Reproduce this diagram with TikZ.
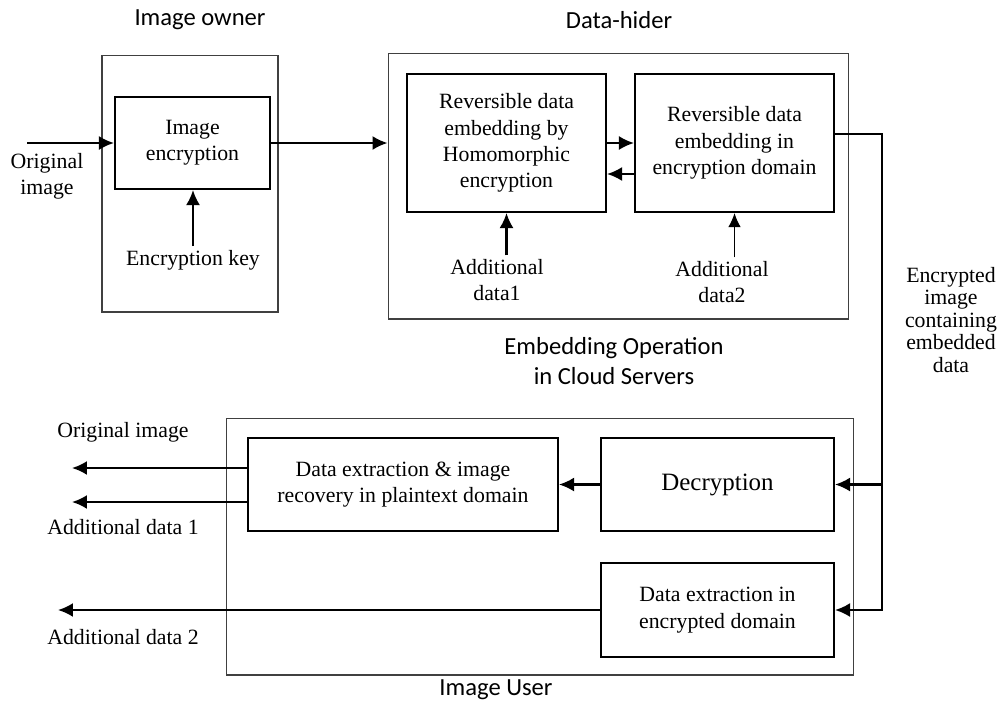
\documentclass[tikz,border=0pt]{standalone}
\usepackage{fontspec}
\setmainfont{Liberation Serif}
\newfontfamily\headfont{Carlito}
\usetikzlibrary{shapes,arrows.meta,positioning}

\begin{document}
\begin{tikzpicture}[x=0.02cm, y=-0.02cm, auto,
    block/.style={rectangle, draw, line width=1.2pt, align=center, inner sep=2pt, font=\fontsize{12.4}{15}\selectfont},
    group/.style={rectangle, draw=black!75, line width=0.6pt},
    txt/.style={align=center, inner sep=2pt, font=\fontsize{12.4}{15}\selectfont},
    head/.style={align=center, inner sep=0pt, font=\headfont\fontsize{14}{17}\selectfont},
    flow/.style={draw, -{Latex[length=3mm,width=2.8mm]}, line width=1.2pt},
    thinflow/.style={draw, -{Latex[length=2.8mm,width=2.5mm]}, line width=0.7pt}]
\useasboundingbox (0,0) rectangle (1000,707);

% image owner
			\node [group, minimum width=3.52cm, minimum height=5.14cm] (owner) at (190,183.5) {};
			\node [block, minimum width=3.1cm, minimum height=1.84cm] (encrypt) at (192.5,143) {Image\\encryption};
			\node [txt] (key) at (193,260) {Encryption key};
			\node [txt] (orig) at (47,176) {Original\\image};
			\coordinate (src) at (27,143);
			\node [head] (ownerhead) at (200,20) {Image owner};
			\path [flow] (src) -- (encrypt.west);
			\path [flow] (key.north) -- (key.north |- encrypt.south);

% data hider
			\node [group, minimum width=9.22cm, minimum height=5.32cm] (hider) at (618.5,186) {};
			\node [block, minimum width=3.98cm, minimum height=2.76cm] (embed1) at (506.5,143) {Reversible data\\embedding by\\Homomorphic\\encryption};
			\node [block, minimum width=3.98cm, minimum height=2.76cm] (embed2) at (734.5,143) {Reversible data\\embedding in\\encryption domain};
			\node [txt] (add1) at (497,280) {Additional\\data1};
			\node [txt] (add2) at (722,282) {Additional\\data2};
			\node [head] (hiderhead) at (619,20) {Data-hider};
			\node [head] (cloud) at (614,361) {Embedding Operation\\in Cloud Servers};
			\path [flow] (encrypt.east) -- (encrypt.east -| hider.west);
			\path [flow] (embed1.east) -- (embed2.west);
			\path [flow] ([yshift=-0.62cm]embed2.west) -- ([yshift=-0.62cm]embed1.east);
			\path [flow] (embed1.south |- add1.north) -- (embed1.south);
			\path [thinflow] (embed2.south |- add2.north) -- (embed2.south);

% image user
			\node [group, minimum width=12.56cm, minimum height=5.14cm] (user) at (540,546.5) {};
			\node [block, minimum width=6.2cm, minimum height=1.86cm] (recover) at (403,484.5) {Data extraction \& image\\recovery in plaintext domain};
			\node [block, minimum width=4.66cm, minimum height=1.86cm, font=\fontsize{14.2}{17}\selectfont] (decrypt) at (717.5,484.5) {Decryption};
			\node [block, minimum width=4.66cm, minimum height=1.88cm] (extract) at (717.5,610) {Data extraction in\\encrypted domain};
			\node [txt] (outimg) at (123,432) {Original image};
			\node [txt] (outadd1) at (123,527) {Additional data 1};
			\node [txt] (outadd2) at (123,637) {Additional data 2};
			\node [head] (userhead) at (496,690) {Image User};
			\coordinate (out1) at (72,468);
			\coordinate (out2) at (72,502);
			\coordinate (out3) at (58,610);
			\path [flow] (decrypt.west) -- (recover.east);
			\path [flow] (recover.west |- out1) -- (out1);
			\path [flow] (recover.west |- out2) -- (out2);
			\path [flow] (extract.west) -- (out3);

% encrypted image to user
			\node [txt, font=\fontsize{12.4}{12.8}\selectfont] (cipher) at (951,320) {Encrypted\\image\\containing\\embedded\\data};
			\coordinate (bus) at (882,610);
			\path [flow] ([yshift=0.18cm]embed2.east) -| (bus) -- (extract.east);
			\path [flow] (bus |- decrypt.east) -- (decrypt.east);
		\end{tikzpicture}
\end{document}
